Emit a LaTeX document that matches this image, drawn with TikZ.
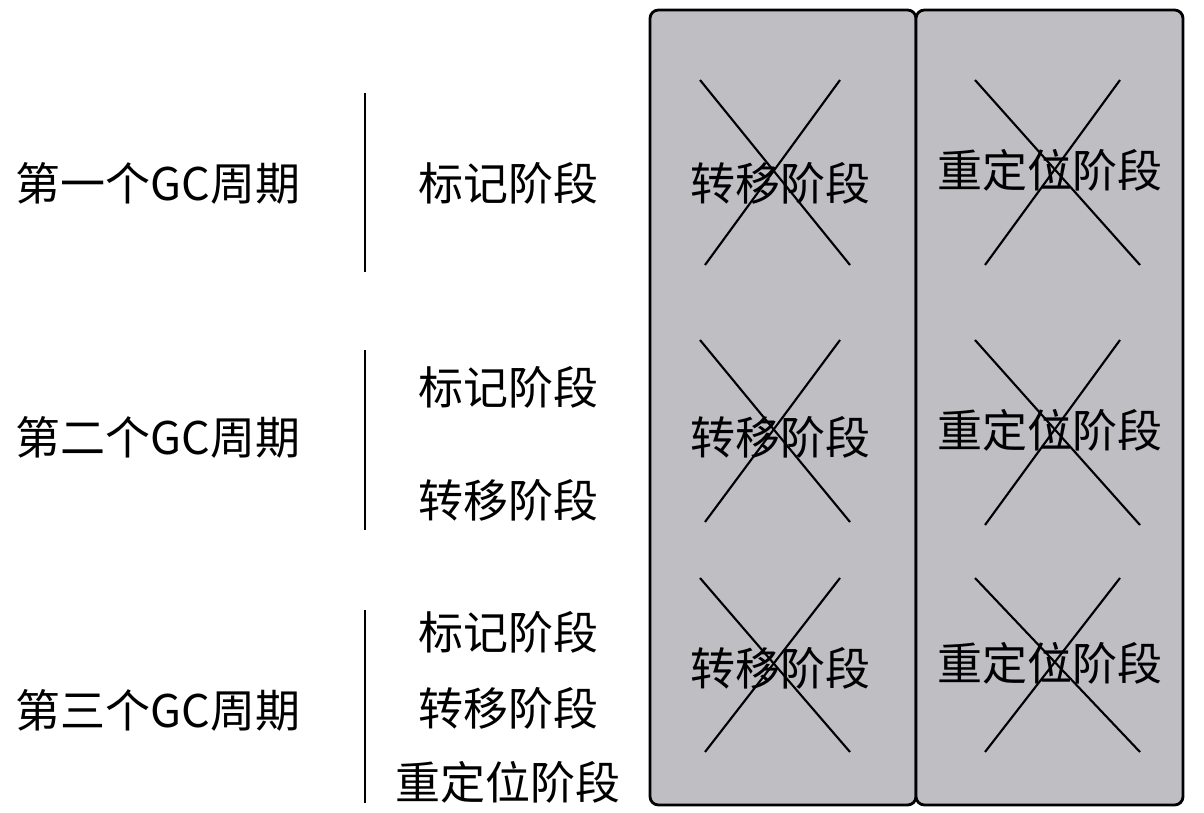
\documentclass[tikz,border=0pt]{standalone}
\usepackage{fontspec}
\setmainfont{Noto Sans CJK SC}
\usepackage{tikz}

\tikzset{
  lbl/.style={inner sep=0pt, font=\fontsize{32}{32}\selectfont},
  phasebox/.style={draw=black, line width=2pt, fill={rgb,255:red,190;green,190;blue,195}, rounded corners=6pt},
  bar/.style={line width=2pt},
  cross/.style={line width=1.5pt}
}

\begin{document}
\begin{tikzpicture}[x=0.025cm, y=-0.025cm]
        \useasboundingbox (0,0) rectangle (1204,813);
        % grey columns
        \draw [phasebox] (650,10) rectangle (916,805);
        \draw [phasebox] (916,10) rectangle (1183,805);
        % cycle names
        \node [lbl] (c1) at (158,183) {第一个GC周期};
        \node [lbl] (c2) at (158,437) {第二个GC周期};
        \node [lbl] (c3) at (158,710) {第三个GC周期};
        % separators
        \draw [bar] (365,93) -- (365,272);
        \draw [bar] (365,350) -- (365,530);
        \draw [bar] (365,610) -- (365,803);
        % phases done
        \node [lbl] (m1) at (508,183) {标记阶段};
        \node [lbl] (m2) at (508,387) {标记阶段};
        \node [lbl] (t2) at (508,500) {转移阶段};
        \node [lbl] (m3) at (508,632) {标记阶段};
        \node [lbl] (t3) at (508,708) {转移阶段};
        \node [lbl] (r3) at (508,782) {重定位阶段};
        % phases skipped
        \foreach \y/\ya/\yb [count=\i] in {183/80/265, 437/340/522, 668/578/752} {
          \node [lbl] (tx\i) at (780,\y) {转移阶段};
          \draw [cross] (700,\ya) -- (850,\yb);
          \draw [cross] (840,\ya) -- (705,\yb);
        }
        \foreach \y/\ya/\yb [count=\i] in {170/80/265, 430/340/525, 663/578/752} {
          \node [lbl] (rx\i) at (1050,\y) {重定位阶段};
          \draw [cross] (975,\ya) -- (1140,\yb);
          \draw [cross] (1120,\ya) -- (985,\yb);
        }
\end{tikzpicture}
\end{document}
